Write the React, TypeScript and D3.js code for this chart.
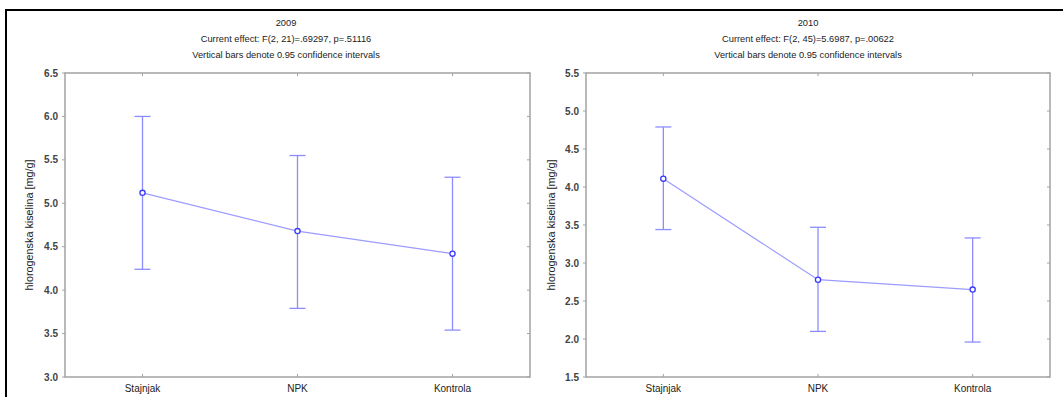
import React from "react";
import * as d3 from "d3";

const categories = ["Stajnjak", "NPK", "Kontrola"];

const means2009 = [5.12, 4.68, 4.42];
const lower2009 = [4.24, 3.79, 3.54];
const upper2009 = [6.0, 5.55, 5.3];
const ticks2009 = [3.0, 3.5, 4.0, 4.5, 5.0, 5.5, 6.0, 6.5];

const means2010 = [4.11, 2.78, 2.65];
const lower2010 = [3.44, 2.1, 1.96];
const upper2010 = [4.79, 3.47, 3.33];
const ticks2010 = [1.5, 2.0, 2.5, 3.0, 3.5, 4.0, 4.5, 5.0, 5.5];

const yLabel = "hlorogenska kiselina [mg/g]";
const titles2009 = ["2009", "Current effect: F(2, 21)=.69297, p=.51116", "Vertical bars denote 0.95 confidence intervals"];
const titles2010 = ["2010", "Current effect: F(2, 45)=5.6987, p=.00622", "Vertical bars denote 0.95 confidence intervals"];

const FONT = "'Liberation Sans', Arial, sans-serif";
const FRAME = "#a3a3a3";
const LINE = "#9c9cff";
const BAR = "#8c8cff";
const MARK = "#3a3aff";

type PanelProps = {
  x0: number; x1: number; top: number; bottom: number;
  titleX: number; labelX: number;
  means: number[]; lower: number[]; upper: number[]; ticks: number[];
  titles: string[];
};

function Panel(p: PanelProps) {
  const y = d3.scaleLinear().domain([p.ticks[0], p.ticks[p.ticks.length - 1]]).range([p.bottom, p.top]);
  const x = d3.scalePoint<string>().domain(categories).range([p.x0, p.x1]).padding(0.5);
  const pts: [number, number][] = categories.map((c, i) => [x(c)!, y(p.means[i])]);
  const line = d3.line()(pts) || "";
  const cy = (p.top + p.bottom) / 2;
  return (
    <g>
      {p.titles.map((t, i) => (
        <text key={i} x={p.titleX} y={26 + i * 16} textAnchor="middle" fontSize={9.3} fill="#222" fontFamily={FONT}>{t}</text>
      ))}
      <rect x={p.x0} y={p.top} width={p.x1 - p.x0} height={p.bottom - p.top} fill="white" stroke={FRAME} strokeWidth={1.5} />
      {p.ticks.map((t, i) => (
        <g key={i}>
          <line x1={p.x0 - 3} x2={p.x0} y1={y(t)} y2={y(t)} stroke={FRAME} />
          <line x1={p.x1} x2={p.x1 - 3} y1={y(t)} y2={y(t)} stroke={FRAME} />
          <text x={p.x0 - 7} y={y(t) + 3.5} textAnchor="end" fontSize={10} fontWeight="bold" fill="#444" fontFamily={FONT}>{t.toFixed(1)}</text>
        </g>
      ))}
      {categories.map((c) => (
        <g key={c}>
          <line x1={x(c)} x2={x(c)} y1={p.top} y2={p.top + 3} stroke={FRAME} />
          <line x1={x(c)} x2={x(c)} y1={p.bottom} y2={p.bottom - 3} stroke={FRAME} />
          <text x={x(c)} y={392} textAnchor="middle" fontSize={10} fill="#222" fontFamily={FONT}>{c}</text>
        </g>
      ))}
      <text transform={`translate(${p.labelX},${cy}) rotate(-90)`} textAnchor="middle" fontSize={10.8} fill="#222" fontFamily={FONT}>{yLabel}</text>
      <path d={line} fill="none" stroke={LINE} strokeWidth={1.2} />
      {categories.map((c, i) => (
        <g key={c} stroke={BAR} strokeWidth={1.3}>
          <line x1={x(c)} x2={x(c)} y1={y(p.lower[i])} y2={y(p.upper[i])} />
          <line x1={x(c)! - 8} x2={x(c)! + 8} y1={y(p.lower[i])} y2={y(p.lower[i])} />
          <line x1={x(c)! - 8} x2={x(c)! + 8} y1={y(p.upper[i])} y2={y(p.upper[i])} />
        </g>
      ))}
      {pts.map((pt, i) => (
        <circle key={i} cx={pt[0]} cy={pt[1]} r={2.6} fill="white" stroke={MARK} strokeWidth={1.3} />
      ))}
    </g>
  );
}

export default function App() {
  return (
    <svg width={1063} height={397} style={{ position: "absolute", left: 0, top: 0, background: "white" }}>
      <rect x={0} y={0} width={1063} height={397} fill="white" />
      <line x1={5} x2={1063} y1={10} y2={10} stroke="#000" strokeWidth={2} />
      <line x1={6} x2={6} y1={10} y2={397} stroke="#000" strokeWidth={2} />
      <Panel x0={65} x1={530} top={73} bottom={377} titleX={286} labelX={33}
        means={means2009} lower={lower2009} upper={upper2009} ticks={ticks2009} titles={titles2009} />
      <Panel x0={586} x1={1050} top={73} bottom={377} titleX={808} labelX={555}
        means={means2010} lower={lower2010} upper={upper2010} ticks={ticks2010} titles={titles2010} />
    </svg>
  );
}
